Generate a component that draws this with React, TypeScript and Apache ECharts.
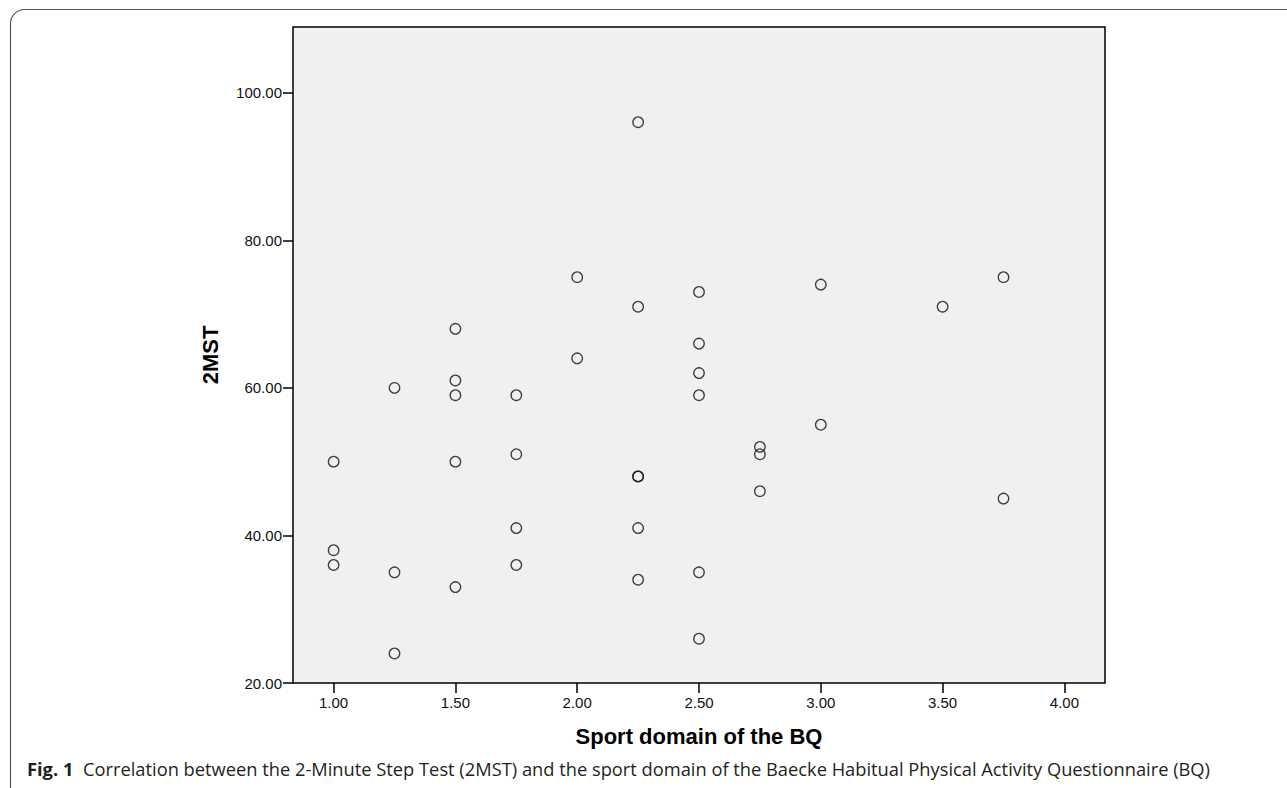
import React, { useEffect, useRef } from "react";
import * as echarts from "echarts";

// Sport domain of the BQ (x) and 2MST score (y), one entry per participant
const sportDomain = [
  1.0, 1.0, 1.0,
  1.25, 1.25, 1.25,
  1.5, 1.5, 1.5, 1.5, 1.5,
  1.75, 1.75, 1.75, 1.75,
  2.0, 2.0,
  2.25, 2.25, 2.25, 2.25, 2.25, 2.25,
  2.5, 2.5, 2.5, 2.5, 2.5, 2.5,
  2.75, 2.75, 2.75,
  3.0, 3.0,
  3.5,
  3.75, 3.75,
];
const stepTest = [
  50, 38, 36,
  60, 35, 24,
  68, 61, 59, 50, 33,
  59, 51, 41, 36,
  75, 64,
  96, 71, 48, 48, 41, 34,
  73, 66, 62, 59, 35, 26,
  52, 51, 46,
  74, 55,
  71,
  75, 45,
];
const xTicks = [1.0, 1.5, 2.0, 2.5, 3.0, 3.5, 4.0];
const yTicks = [20, 40, 60, 80, 100];
const xTitle = "Sport domain of the BQ";
const yTitle = "2MST";
const captionLead = "Fig. 1";
const captionText =
  "Correlation between the 2-Minute Step Test (2MST) and the sport domain of the Baecke Habitual Physical Activity Questionnaire (BQ)";

export default function App() {
  const ref = useRef<HTMLDivElement>(null);
  useEffect(() => {
    if (!ref.current) return;
    const chart = echarts.init(ref.current, null, { renderer: "svg" });
    const points = sportDomain.map((x, i) => [x, stepTest[i]]);
    const labelStyle = {
      color: "#111",
      fontFamily: "Liberation Sans, Arial, sans-serif",
      fontSize: 15,
    };
    const tickStyle = { show: true, length: 10, lineStyle: { color: "#000", width: 1.5 } };
    chart.setOption({
      animation: false,
      backgroundColor: "#fff",
      grid: {
        left: 293,
        top: 27,
        right: 182,
        bottom: 105,
        show: true,
        backgroundColor: "#f0f0f0",
        borderColor: "#000",
        borderWidth: 1.5,
        containLabel: false,
      },
      xAxis: {
        type: "value",
        min: 0.8333,
        max: 4.1667,
        interval: 0.5,
        splitLine: { show: false },
        axisLine: { show: false },
        axisTick: { ...tickStyle, customValues: xTicks },
        axisLabel: {
          ...labelStyle,
          margin: 12,
          customValues: xTicks,
          formatter: (v: number) => v.toFixed(2),
        },
        name: xTitle,
        nameLocation: "middle",
        nameGap: 42,
        nameTextStyle: {
          color: "#000",
          fontFamily: "Liberation Sans, Arial, sans-serif",
          fontWeight: "bold",
          fontSize: 22,
        },
      },
      yAxis: {
        type: "value",
        min: 20,
        max: 108.9,
        interval: 20,
        splitLine: { show: false },
        axisLine: { show: false },
        axisTick: { ...tickStyle, customValues: yTicks },
        axisLabel: {
          ...labelStyle,
          margin: 11,
          customValues: yTicks,
          formatter: (v: number) => v.toFixed(2),
        },
        name: yTitle,
        nameLocation: "middle",
        nameGap: 72,
        nameTextStyle: {
          color: "#000",
          fontFamily: "Liberation Sans, Arial, sans-serif",
          fontWeight: "bold",
          fontSize: 22,
        },
      },
      series: [
        {
          type: "scatter",
          data: points,
          symbol: "circle",
          symbolSize: 10.5,
          itemStyle: { color: "rgba(0,0,0,0)", borderColor: "#111", borderWidth: 1.3 },
          emphasis: { disabled: true },
        },
      ],
      graphic: [
        {
          type: "rect",
          silent: true,
          shape: { x: 10.5, y: 9.5, width: 3000, height: 3000, r: [14, 0, 0, 0] },
          style: { fill: "none", stroke: "#555", lineWidth: 1.2 },
        },
        {
          type: "text",
          silent: true,
          x: 27,
          y: 768,
          style: {
            text: `{b|${captionLead}}  {r|${captionText}}`,
            verticalAlign: "middle",
            rich: {
              b: {
                fontFamily: "Open Sans",
                fontWeight: "bold",
                fontSize: 18.3,
                fill: "#231f20",
                padding: [0, 3, 0, 0],
              },
              r: {
                fontFamily: "Open Sans",
                fontSize: 18.3,
                fill: "#231f20",
              },
            },
          },
        },
      ],
    });
    return () => chart.dispose();
  }, []);
  return (
    <div
      ref={ref}
      style={{ position: "absolute", left: 0, top: 0, width: 1287, height: 788, overflow: "hidden" }}
    />
  );
}
